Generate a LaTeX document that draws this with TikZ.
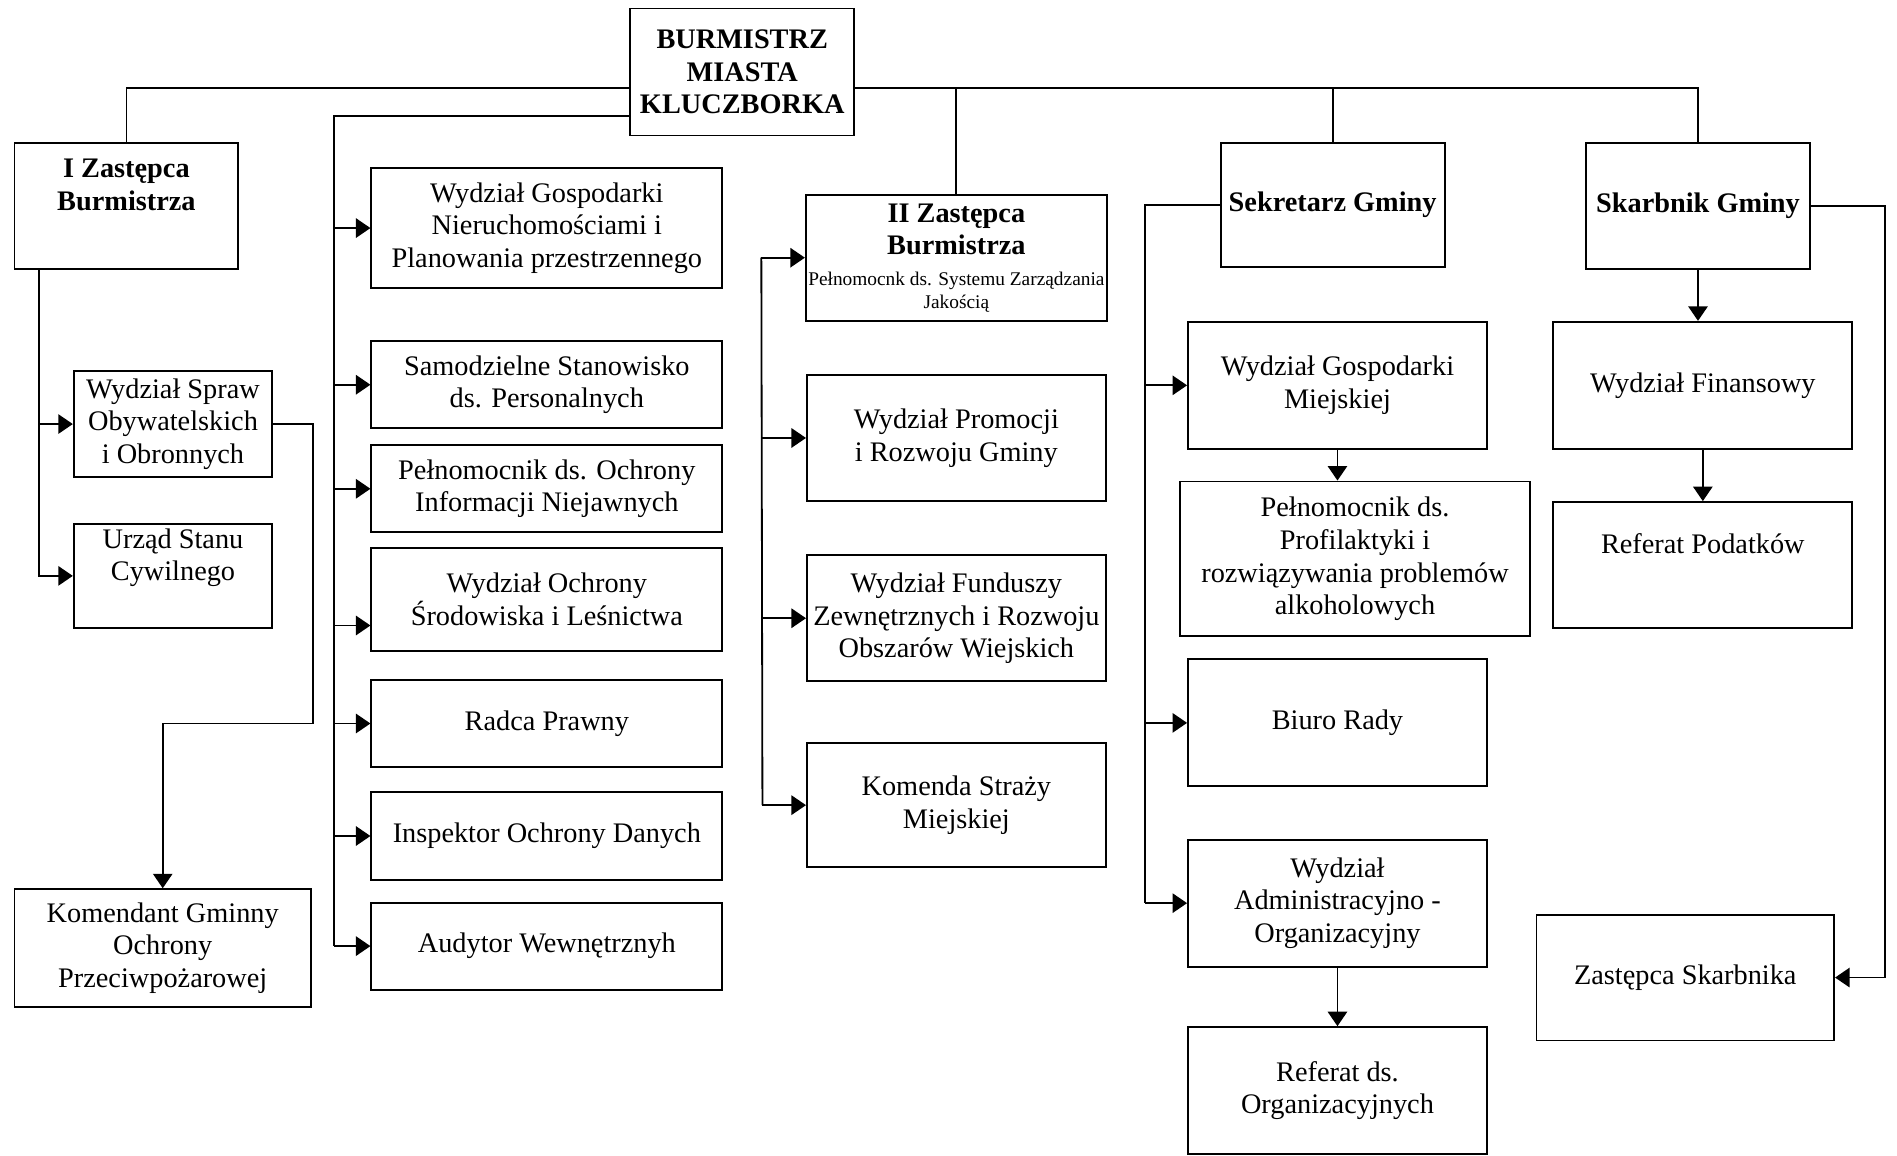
\documentclass[tikz,border=0pt]{standalone}
\usepackage{fontspec}
\setmainfont{Liberation Serif}
\usetikzlibrary{arrows.meta}
\newcommand{\fmain}{\fontsize{11.7}{13.5}\selectfont}
\newcommand{\fsmall}{\fontsize{8}{9.5}\selectfont}
\tikzset{
  box/.style={draw, line width=0.8pt, align=center, inner xsep=1pt, inner ysep=2pt, font=\fmain},
  head/.style={box, font=\fmain\bfseries},
  arr/.style={-{Triangle[length=6pt,width=8pt]}},
}
\begin{document}
\begin{tikzpicture}[x=0.5pt,y=-0.5pt,line width=0.75pt]
\useasboundingbox (0,0) rectangle (1568,955);
% top
\node[head, minimum width=92.5pt, minimum height=52.5pt] (burm) at (613.5,59.5) {BURMISTRZ\\MIASTA\\KLUCZBORKA};
% I Zastepca
\node[head, minimum width=92.5pt, minimum height=52pt] (zast1) at (104.5,170) {I Zastępca\\Burmistrza\\ \strut};
\node[box, minimum width=82pt, minimum height=43.5pt] (wsob) at (143,350.5) {Wydział Spraw\\Obywatelskich\\i Obronnych};
\node[box, minimum width=82pt, minimum height=43pt] (usc) at (143,476) {Urząd Stanu\\Cywilnego\\ \strut};
\node[box, minimum width=122.5pt, minimum height=48.5pt] (kgop) at (134.5,783.5) {Komendant Gminny\\Ochrony\\Przeciwpożarowej};
% column under Burmistrz
\node[box, minimum width=145pt, minimum height=49.5pt] (wgn) at (452,188.5) {Wydział Gospodarki\\Nieruchomościami i\\Planowania przestrzennego};
\node[box, minimum width=145pt, minimum height=36pt] (ssp) at (452,318) {Samodzielne Stanowisko\\ds. Personalnych};
\node[box, minimum width=145pt, minimum height=36pt] (poin) at (452,404) {Pełnomocnik ds. Ochrony\\Informacji Niejawnych};
\node[box, minimum width=145pt, minimum height=42.5pt] (wos) at (452,495.5) {Wydział Ochrony\\Środowiska i Leśnictwa};
\node[box, minimum width=145pt, minimum height=36pt] (rp) at (452,598) {Radca Prawny};
\node[box, minimum width=145pt, minimum height=36pt] (iod) at (452,691) {Inspektor Ochrony Danych};
\node[box, minimum width=145pt, minimum height=36pt] (aw) at (452,782) {Audytor Wewnętrznyh};
% II Zastepca
\node[box, minimum width=123.5pt, minimum height=52pt] (zast2) at (790.5,213) {\textbf{II Zastępca}\\\textbf{Burmistrza}\\[-1pt]{\fsmall Pełnomocnk ds. Systemu Zarządzania}\\[-4pt]{\fsmall Jakością}};
\node[box, minimum width=123.5pt, minimum height=52pt] (wprg) at (790.5,362) {Wydział Promocji\\i Rozwoju Gminy};
\node[box, minimum width=123.5pt, minimum height=52pt] (wfz) at (790.5,511) {Wydział Funduszy\\Zewnętrznych i Rozwoju\\Obszarów Wiejskich};
\node[box, minimum width=123.5pt, minimum height=51.5pt] (ksm) at (790.5,665.5) {Komenda Straży\\Miejskiej};
% Sekretarz
\node[head, minimum width=92.5pt, minimum height=51.5pt] (sek) at (1101.5,169.5) {Sekretarz Gminy};
\node[box, minimum width=123.5pt, minimum height=52.5pt] (wgm) at (1105.5,318.5) {Wydział Gospodarki\\Miejskiej};
\node[box, minimum width=145pt, minimum height=64pt] (ppr) at (1120,462) {Pełnomocnik ds.\\Profilaktyki i\\rozwiązywania problemów\\alkoholowych};
\node[box, minimum width=123.5pt, minimum height=52.5pt] (br) at (1105.5,597.5) {Biuro Rady};
\node[box, minimum width=123.5pt, minimum height=52.5pt] (wao) at (1105.5,746.5) {Wydział\\Administracyjno -\\Organizacyjny};
\node[box, minimum width=123.5pt, minimum height=52.5pt] (rdo) at (1105.5,901.5) {Referat ds.\\Organizacyjnych};
% Skarbnik
\node[head, minimum width=92.5pt, minimum height=52pt] (skarb) at (1403.5,170) {Skarbnik Gminy};
\node[box, minimum width=123.5pt, minimum height=52.5pt] (wf) at (1407.5,318.5) {Wydział Finansowy};
\node[box, minimum width=123.5pt, minimum height=52pt] (rpod) at (1407.5,467) {Referat Podatków\\ \strut};
\node[box, minimum width=123pt, minimum height=52pt] (zsk) at (1393,808) {Zastępca Skarbnika};
% connectors
\coordinate (busL) at ([yshift=-6.75pt]burm.west);
\coordinate (busR) at ([yshift=-6.75pt]burm.east);
\draw (busL) -| (zast1.north);
\draw (busR) -| (skarb.north);
\draw (zast2.north |- busR) -- (zast2.north);
\draw (sek.north |- busR) -- (sek.north);
\coordinate (sp2) at ([yshift=-18.25pt]burm.west);
\draw (sp2) -| ([xshift=-15pt]aw.west);
\foreach \n in {wgn,ssp,poin,rp,iod,aw} \draw[arr] ([xshift=-15pt]\n.west) -- (\n.west);
\draw[arr] ([shift={(-15pt,-10.75pt)}]wos.west) -- ([yshift=-10.75pt]wos.west);
\coordinate (z1) at ([xshift=10.5pt]zast1.south west);
\draw[arr] (z1) |- (usc.west);
\draw[arr] (z1 |- wsob.west) -- (wsob.west);
\draw[arr] (wsob.east) -- ++(16.5pt,0) -- ++(0,-123.75pt) -| (kgop.north);
\draw ([xshift=-18pt]zast2.west) -- ([xshift=-18pt]ksm.west);
\foreach \n in {zast2,wprg,wfz,ksm} \draw[arr] ([xshift=-18pt]\n.west) -- (\n.west);
\draw (sek.west) -| ([xshift=-17.5pt]wao.west);
\foreach \n in {wgm,br,wao} \draw[arr] ([xshift=-17.5pt]\n.west) -- (\n.west);
\draw[arr] (wgm.south) -- (wgm.south |- ppr.north);
\draw[arr] (wao.south) -- (rdo.north);
\draw[arr] (skarb.south) -- (skarb.south |- wf.north);
\draw[arr] (wf.south) -- (rpod.north);
\draw[arr] (skarb.east) -- ++(30.5pt,0) |- (zsk.east);
\end{tikzpicture}
\end{document}
